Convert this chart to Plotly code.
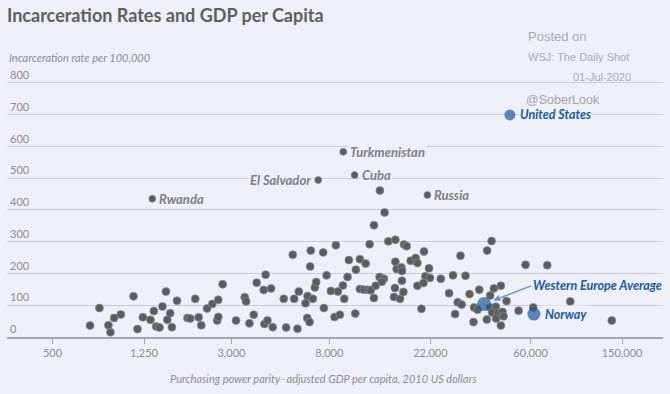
import numpy as np
import plotly.graph_objects as go

# ---------------- data ----------------
gdp_other = [
    728, 800, 875, 893, 927, 991, 1125, 1171, 1236, 1334, 1380, 1413, 1460, 1504, 1557,
    1578, 1625, 1653, 1739, 1933, 1987, 2089, 2160, 2218, 2350, 2477, 2630, 2600, 2630, 2748,
    3142, 3428, 3475, 3592, 3750, 3864, 4145, 4227, 4175, 4301, 4463, 4535, 5066, 5188, 5545,
    5623, 5810, 5890, 6300, 6430, 6410, 6560, 6640, 6600, 6780, 6920, 7010, 7520, 7570, 7780,
    8120, 8537, 8425, 8710, 8886,
    13270, 13910, 12500, 11970, 14440, 15490, 16890, 17350, 20640, 9725, 10860, 11500, 10430,
    15490, 15690, 16460, 16550, 18060, 18990, 19320, 21700, 20930, 21910, 24410, 9600, 13230,
    13810, 13540, 16550, 9157, 9286, 10860, 11300, 11770, 12090, 12710, 12500, 15430, 15280,
    16230, 16790, 19320, 20520, 26530, 20110, 10370,
    40600, 38840, 29740, 57070, 70900, 27610, 31270, 32550, 35890, 41540, 44550, 40030, 47170,
    28940, 30100, 34090, 35270, 40030, 42380, 40830, 43360, 45320, 38720, 42500, 45770, 53210,
    61600, 28170, 33880, 44550, 89300, 135300,
]
rate_other = [
    36, 91, 37, 15, 60, 71, 128, 25, 62, 54, 82, 33, 30, 96, 143,
    54, 75, 31, 114, 60, 58, 120, 62, 37, 90, 104, 117, 52, 63, 166,
    52, 125, 112, 43, 70, 171, 148, 196, 41, 52, 153, 31, 120, 30, 259,
    120, 26, 143, 106, 129, 60, 47, 272, 222, 120, 156, 173, 266, 91, 194,
    145, 289, 63, 143, 70,
    461, 392, 352, 292, 301, 306, 291, 286, 269, 242, 245, 231, 212,
    237, 214, 219, 208, 240, 249, 233, 216, 191, 186, 183, 189, 189,
    183, 174, 177, 162, 120, 151, 149, 149, 147, 161, 123, 154, 126,
    120, 142, 161, 170, 138, 89, 74,
    302, 272, 256, 227, 226, 194, 193, 135, 149, 153, 161, 131, 113,
    109, 102, 93, 86, 93, 95, 77, 75, 79, 55, 58, 65, 83,
    93, 72, 47, 36, 112, 52,
]

labeled_names = ["Rwanda", "El Salvador", "Turkmenistan", "Cuba", "Russia"]
labeled_gdp = [1358, 7155, 9195, 10300, 21350]
labeled_rate = [435, 494, 583, 510, 447]

highlight_names = ["United States", "Western Europe Average", "Norway"]
highlight_gdp = [48760, 37680, 62050]
highlight_rate = [699, 104, 72]

x_tickvals = [500, 1250, 3000, 8000, 22000, 60000, 150000]
x_ticktext = ["500", "1,250", "3,000", "8,000", "22,000", "60,000", "150,000"]
y_tickvals = [0, 100, 200, 300, 400, 500, 600, 700, 800]

# ---------------- styling ----------------
W, H = 670, 394
Y_TOP = 812
ML, MR, MB = 7, 7, 57
PH = round((H - MB - 82.7) * Y_TOP / 800)
MT = H - MB - PH
PW = W - ML - MR
BG = "#edf0f6"
DOT = "#5c5c5e"
BLUE = "#1c5a9c"
TXT = "#8b8d92"
FONT = "Lato"


def px(xp):
    return (xp - ML) / PW


def py(yp):
    return (H - MB - yp) / PH


fig = go.Figure()
fig.add_trace(go.Scatter(
    x=gdp_other, y=rate_other, mode="markers", cliponaxis=False, hoverinfo="skip",
    marker=dict(size=8, color=DOT, line=dict(width=0.7, color="#8e8f94")),
))
fig.add_trace(go.Scatter(
    x=labeled_gdp, y=labeled_rate, mode="markers", cliponaxis=False, hoverinfo="skip",
    marker=dict(size=7, color=DOT, line=dict(width=0.7, color="#8e8f94")),
))
fig.add_trace(go.Scatter(
    x=highlight_gdp, y=highlight_rate, mode="markers", cliponaxis=False, hoverinfo="skip",
    marker=dict(size=[11, 14, 13], color=BLUE, line=dict(width=0)),
))

annotations = []
label_side = {"Rwanda": "left", "El Salvador": "right", "Turkmenistan": "left",
              "Cuba": "left", "Russia": "left"}
for n, g, r in zip(labeled_names, labeled_gdp, labeled_rate):
    side = label_side[n]
    annotations.append(dict(
        x=np.log10(g), y=r, xref="x", yref="y", text=n, showarrow=False,
        xanchor=side, yanchor="middle", xshift=5 if side == "left" else -5,
        bgcolor=BG, borderpad=1,
        font=dict(family=FONT, size=13, color="#7d7f84", style="italic", weight="bold"),
    ))
BLUE_FONT = dict(family=FONT, size=12.5, color=BLUE, style="italic", weight="bold")
annotations.append(dict(
    x=np.log10(highlight_gdp[0]), y=highlight_rate[0], xref="x", yref="y",
    text=highlight_names[0], showarrow=False, xanchor="left", yanchor="middle", xshift=9,
    bgcolor=BG, borderpad=0, font=BLUE_FONT,
))
annotations.append(dict(
    x=np.log10(highlight_gdp[2]), y=highlight_rate[2], xref="x", yref="y",
    text=highlight_names[2], showarrow=False, xanchor="left", yanchor="middle", xshift=9,
    bgcolor=BG, borderpad=1, font=BLUE_FONT,
))
annotations.append(dict(
    x=np.log10(highlight_gdp[1]), y=highlight_rate[1], xref="x", yref="y",
    text=highlight_names[1], showarrow=True, arrowhead=2, arrowsize=1, arrowwidth=1.3,
    arrowcolor="#6d8fc4", ax=47, ay=-18, xanchor="left", yanchor="middle",
    standoff=10, bgcolor=BG, borderpad=1, font=BLUE_FONT,
))

GREY_NOTE = "#a9abb1"
annotations += [
    dict(xref="paper", yref="paper", x=px(5), y=py(15), xanchor="left", yanchor="middle",
         showarrow=False, text="Incarceration Rates and GDP per Capita",
         font=dict(family=FONT, size=18, color="#5d5f63", weight="bold")),
    dict(xref="paper", yref="paper", x=px(7), y=py(57), xanchor="left", yanchor="middle",
         showarrow=False, text="Incarceration rate per 100,000",
         font=dict(family=FONT, size=11, color=TXT, style="italic")),
    dict(xref="paper", yref="paper", x=px(526), y=py(37), xanchor="left", yanchor="middle",
         showarrow=False, text="Posted on",
         font=dict(family="Liberation Sans", size=13, color=GREY_NOTE)),
    dict(xref="paper", yref="paper", x=px(526), y=py(57), xanchor="left", yanchor="middle",
         showarrow=False, text="WSJ: The Daily Shot",
         font=dict(family="Liberation Sans", size=11, color=GREY_NOTE)),
    dict(xref="paper", yref="paper", x=px(633), y=py(77), xanchor="right", yanchor="middle",
         showarrow=False, text="01-Jul-2020",
         font=dict(family="Liberation Sans", size=11, color=GREY_NOTE)),
    dict(xref="paper", yref="paper", x=px(524), y=py(100), xanchor="left", yanchor="middle",
         showarrow=False, text="@SoberLook",
         font=dict(family="Liberation Sans", size=12.5, color="#a3a5ab")),
    dict(xref="paper", yref="paper", x=px(323), y=py(378), xanchor="center", yanchor="middle",
         showarrow=False, text="Purchasing power parity\u2013adjusted GDP per capita, 2010 US dollars",
         font=dict(family=FONT, size=11, color=TXT, style="italic")),
]

fig.update_layout(
    width=W, height=H, margin=dict(l=ML, r=MR, t=MT, b=MB),
    paper_bgcolor=BG, plot_bgcolor=BG, showlegend=False,
    xaxis=dict(
        type="log", range=[np.log10(317), np.log10(226000)],
        tickvals=x_tickvals, ticktext=x_ticktext, showgrid=False, zeroline=False,
        showline=True, linecolor="#a4a6ab", linewidth=1.5,
        ticks="outside", ticklen=5, tickcolor="#a4a6ab", tickwidth=1,
        tickfont=dict(family=FONT, size=11, color=TXT), fixedrange=True,
    ),
    yaxis=dict(
        range=[0, Y_TOP], tickvals=y_tickvals, showgrid=True, gridcolor="#cbced4",
        gridwidth=1, zeroline=False, showline=False, ticks="",
        ticklabelposition="inside top", ticklabelstandoff=0, ticklabeloverflow="allow",
        tickfont=dict(family=FONT, size=11, color=TXT), fixedrange=True,
    ),
    annotations=annotations,
)

fig.write_html(
    "out.html",
    config={"displayModeBar": False, "staticPlot": True},
    post_script="document.body.style.margin='0';document.body.style.padding='0';"
                "document.documentElement.style.overflow='hidden';",
)
